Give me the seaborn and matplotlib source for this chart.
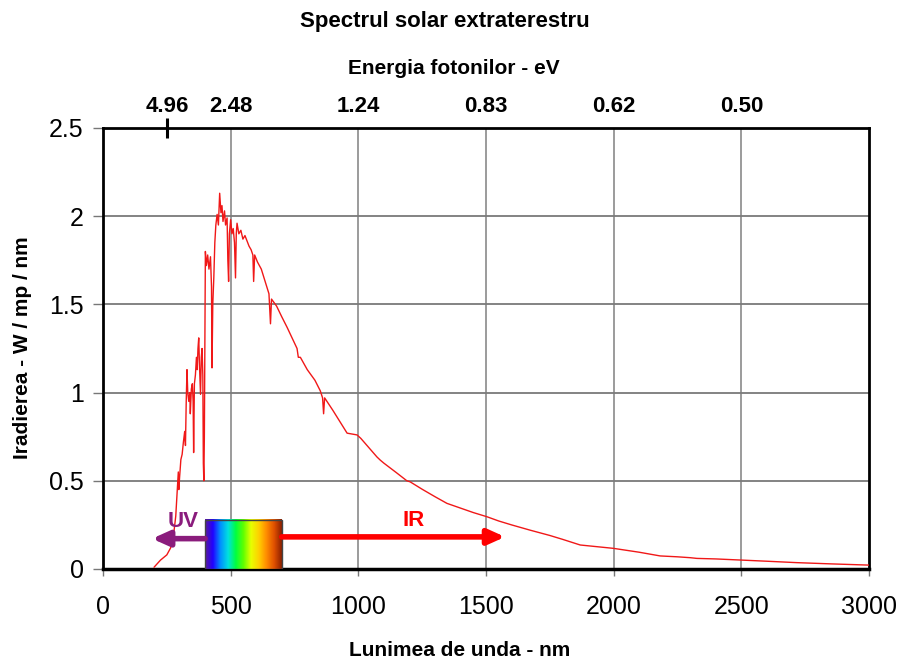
import numpy as np
import pandas as pd
import matplotlib
matplotlib.use("Agg")
import matplotlib.pyplot as plt
import seaborn as sns
from matplotlib.colors import LinearSegmentedColormap
from matplotlib.patches import Rectangle
from matplotlib.ticker import FixedLocator

# ---------------- data ----------------
wavelength_nm = [200, 225, 250, 265, 277, 285, 290, 295, 297, 300, 305, 310, 315, 320,
                 323, 326, 329, 332, 336, 340, 342, 346, 350, 353, 355, 358, 362, 366,
                 369, 372, 375, 378, 382, 385, 388, 391, 393, 395, 397, 399, 401, 405,
                 410, 415, 421, 425, 427, 430, 434, 438, 442, 447, 452, 457, 462, 466,
                 470, 476, 480, 486, 489, 492, 495, 500, 505, 510, 515, 519, 522, 525,
                 532, 540, 548, 556, 564, 572, 580, 587, 590, 594, 605, 620, 635, 650,
                 656, 660, 680, 700, 721, 750, 760, 765, 773, 800, 830, 851, 860, 864,
                 868, 900, 930, 956, 995, 1010, 1040, 1073, 1086, 1100, 1150, 1190,
                 1203, 1250, 1300, 1347, 1400, 1450, 1504, 1550, 1600, 1673, 1750,
                 1800, 1869, 1930, 1999, 2100, 2182, 2250, 2300, 2326, 2400, 2495,
                 2600, 2717, 2850, 2991, 3000]
irradiance = [0.01, 0.05, 0.08, 0.12, 0.20, 0.30, 0.42, 0.55, 0.45, 0.52, 0.62, 0.65,
              0.72, 0.78, 0.70, 0.95, 1.13, 1.00, 0.95, 1.00, 0.88, 1.02, 1.05, 0.95,
              0.66, 1.05, 1.10, 1.20, 1.13, 1.25, 1.31, 1.15, 0.99, 1.20, 1.25, 1.10,
              0.60, 0.50, 0.75, 1.30, 1.80, 1.72, 1.78, 1.70, 1.77, 1.60, 1.14, 1.50,
              1.65, 1.85, 1.95, 2.01, 1.95, 2.13, 2.02, 2.06, 1.97, 2.03, 1.95, 1.99,
              1.75, 1.63, 1.90, 1.98, 1.90, 1.93, 1.85, 1.65, 1.90, 1.96, 1.90, 1.92,
              1.87, 1.89, 1.86, 1.83, 1.81, 1.78, 1.63, 1.78, 1.74, 1.70, 1.63, 1.56,
              1.39, 1.53, 1.49, 1.43, 1.37, 1.28, 1.25, 1.20, 1.20, 1.13, 1.07, 1.01,
              0.97, 0.88, 0.97, 0.90, 0.83, 0.77, 0.76, 0.74, 0.69, 0.635, 0.617, 0.60,
              0.545, 0.50, 0.494, 0.452, 0.41, 0.372, 0.345, 0.32, 0.296, 0.272, 0.25,
              0.22, 0.19, 0.168, 0.136, 0.127, 0.117, 0.095, 0.074, 0.069, 0.064, 0.060,
              0.057, 0.051, 0.044, 0.036, 0.029, 0.023, 0.022]

x_ticks = [0, 500, 1000, 1500, 2000, 2500, 3000]
y_ticks = [0, 0.5, 1, 1.5, 2, 2.5]
y_tick_labels = ["0", "0.5", "1", "1.5", "2", "2.5"]
energy_tick_wavelengths = [250, 500, 1000, 1500, 2000, 2500]
energy_tick_labels = ["4.96", "2.48", "1.24", "0.83", "0.62", "0.50"]
visible_band_nm = [400, 700]
visible_colors = ["#5b1a9c", "#2200ff", "#0090ff", "#00e0e0", "#00ff40", "#60ff00",
                  "#e8ff00", "#ffd000", "#ff8c00", "#e05000", "#8b2000"]

title = "Spectrul solar extraterestru"
top_label = "Energia fotonilor - eV"
x_label = "Lunimea de unda - nm"
y_label = "Iradierea - W / mp / nm"

# ---------------- style ----------------
sns.set_style("white")
plt.rcParams["font.family"] = ["Liberation Sans", "DejaVu Sans"]
plt.rcParams["text.color"] = "black"
plt.rcParams["xtick.color"] = "black"
plt.rcParams["ytick.color"] = "black"
plt.rcParams["axes.labelcolor"] = "black"

fig = plt.figure(figsize=(9.01, 6.61), dpi=100)
ax = fig.add_axes([0.1143, 0.1392, 0.8502, 0.6672])

df = pd.DataFrame({"wl": wavelength_nm, "irr": irradiance})
sns.lineplot(data=df, x="wl", y="irr", ax=ax, color="#f01818", linewidth=1.0,
             estimator=None, sort=False, zorder=4)

# grid
grid_color = "#808080"
for xv in x_ticks[1:-1]:
    ax.axvline(xv, color=grid_color, lw=1.1, zorder=1)
for yv in y_ticks[1:-1]:
    ax.axhline(yv, color="#7a7a7a", lw=1.3, zorder=1)

# visible spectrum box
cmap = LinearSegmentedColormap.from_list("vis", visible_colors)
grad = np.linspace(0, 1, 256).reshape(1, -1)
box_h = 0.28
ax.imshow(grad, extent=[visible_band_nm[0], visible_band_nm[1], 0, box_h],
          aspect="auto", cmap=cmap, zorder=5)
ax.add_patch(Rectangle((visible_band_nm[0], 0), visible_band_nm[1] - visible_band_nm[0],
                       box_h, fill=False, edgecolor="#444444", lw=1.0, zorder=6))

# arrows
uv_color = "#8a1c7c"
ir_color = "#ff0000"
ax.annotate("", xy=(192, 0.172), xytext=(visible_band_nm[0], 0.172),
            arrowprops=dict(arrowstyle="-|>,head_length=1.0,head_width=0.45",
                            color=uv_color, lw=4, shrinkA=0, shrinkB=0), zorder=6)
ax.annotate("", xy=(1575, 0.182), xytext=(visible_band_nm[1], 0.182),
            arrowprops=dict(arrowstyle="-|>,head_length=1.0,head_width=0.45",
                            color=ir_color, lw=4, shrinkA=0, shrinkB=0), zorder=6)
ax.text(312, 0.267, "UV", color=uv_color, fontsize=16, fontweight="bold",
        ha="center", va="center", zorder=7)
ax.text(1215, 0.277, "IR", color=ir_color, fontsize=16, fontweight="bold",
        ha="center", va="center", zorder=7)

# axes
ax.set_xlim(0, 3000)
ax.set_ylim(0, 2.5)
ax.set_xticks(x_ticks)
ax.set_xticklabels([str(v) for v in x_ticks])
ax.set_yticks(y_ticks)
ax.set_yticklabels(y_tick_labels)
ax.tick_params(axis="x", which="major", direction="out", length=5, width=1,
               color="#777777", labelsize=18, pad=14, bottom=True, top=False)
ax.tick_params(axis="y", direction="out", length=7, width=1, color="#777777",
               labelsize=18, pad=7, left=True)
# short tick on the top edge marking 4.96 eV
ax.xaxis.set_minor_locator(FixedLocator([energy_tick_wavelengths[0]]))
ax.tick_params(axis="x", which="minor", bottom=False, top=True, length=15, width=2.2,
               direction="inout", color="black")
for s in ax.spines.values():
    s.set_visible(True)
    s.set_color("black")
    s.set_linewidth(2)
ax.spines["bottom"].set_linewidth(2.5)

ax.set_xlabel(x_label, fontsize=15, fontweight="bold")
ax.xaxis.set_label_coords(0.466, -0.163)
ax.set_ylabel(y_label, fontsize=15, fontweight="bold")
ax.yaxis.set_label_coords(-0.0927, 0.501)

# top energy axis
sec = ax.secondary_xaxis("top")
sec.set_xticks(energy_tick_wavelengths)
sec.set_xticklabels(energy_tick_labels, fontweight="bold")
sec.tick_params(axis="x", which="major", length=0, labelsize=16, pad=8)
sec.tick_params(axis="x", which="minor", length=0)
sec.spines["top"].set_visible(False)

fig.text(0.494, 1 - 21 / 661, title, fontsize=16, fontweight="bold",
         ha="center", va="center")
fig.text(0.504, 1 - 69 / 661, top_label, fontsize=15, fontweight="bold",
         ha="center", va="center")

fig.savefig("out.png", dpi=100)
